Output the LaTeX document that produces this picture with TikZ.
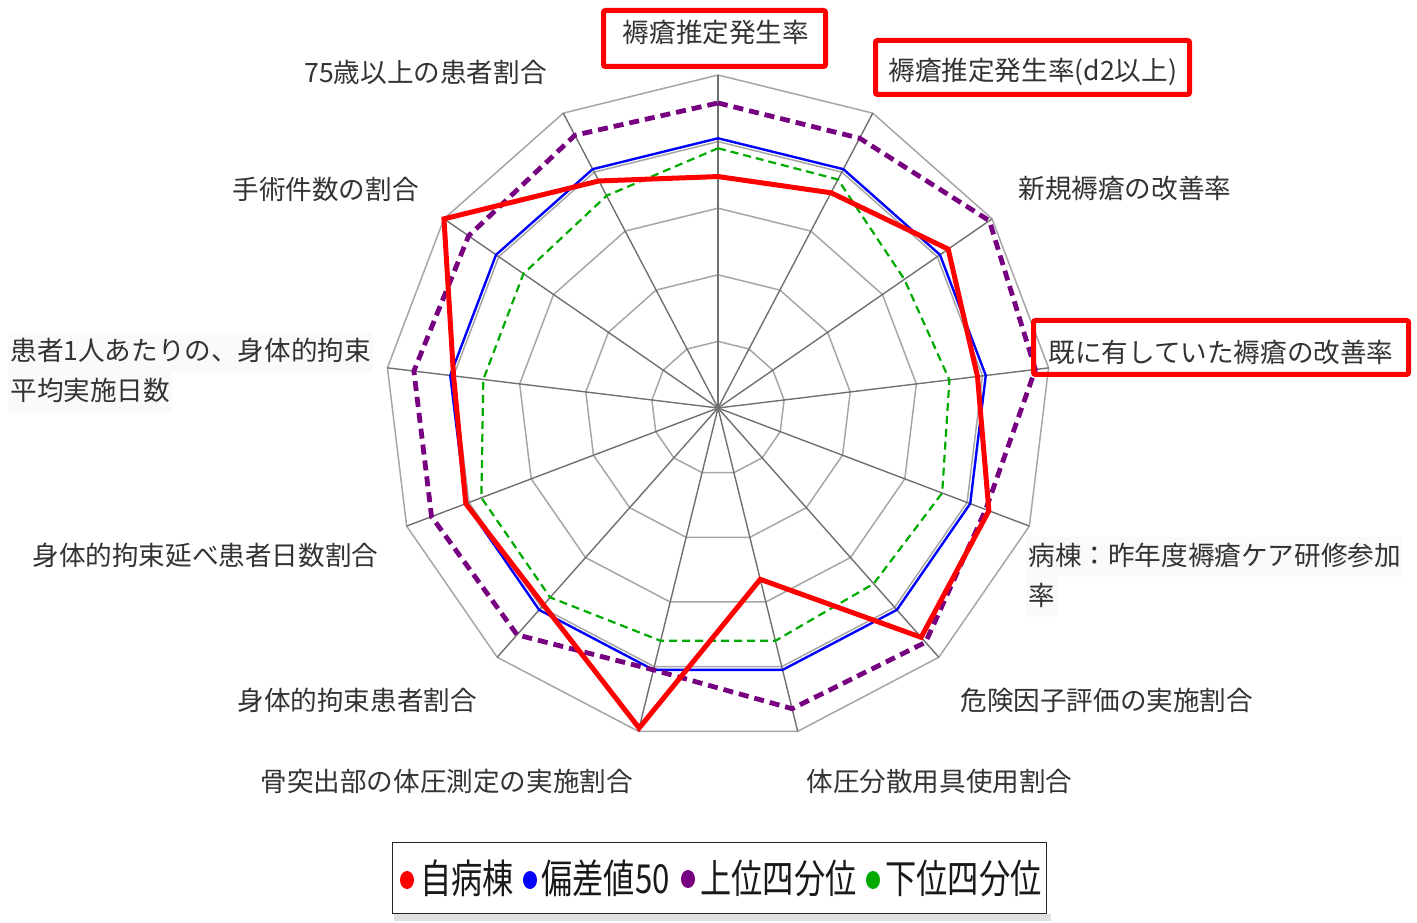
\documentclass[tikz,border=0pt]{standalone}
\usepackage{fontspec}
\usepackage{graphicx}
\usetikzlibrary{positioning,shapes.geometric}
\newfontfamily\jp{Noto Sans CJK JP}
\definecolor{own}  {RGB}{255,  0,  0}
\definecolor{dev}  {RGB}{  0,  0,255}
\definecolor{upq}  {RGB}{118,  0,128}
\definecolor{lowq} {RGB}{  0,170,  0}
\definecolor{ring} {RGB}{166,166,166}
\definecolor{spoke}{RGB}{112,112,112}

\begin{document}
\begin{tikzpicture}[x=0.5pt,y=0.5pt,
    gridring/.style={draw=ring,line width=0.75pt},
    gridspoke/.style={draw=spoke,line width=0.7pt},
    ownline/.style={draw=own,line width=2.5pt,line join=miter},
    devline/.style={draw=dev,line width=1.2pt},
    upqline/.style={draw=upq,line width=2.4pt,dash pattern=on 5pt off 3pt},
    lowqline/.style={draw=lowq,line width=1.1pt,dash pattern=on 4pt off 2.5pt},
    lbl/.style={font=\jp\fontsize{13.3}{16}\selectfont,text=black!80,inner sep=0pt,anchor=west},
    shaded/.style={fill=black!2,inner xsep=1pt,inner ysep=3.5pt,text height=10.5pt,text depth=2.5pt},
    hlbox/.style={draw=own,line width=2.5pt,rounded corners=1pt,inner sep=0pt},
    legtxt/.style={font=\jp\fontsize{20}{24}\selectfont,text=black!90,inner sep=0pt,anchor=west},
    dot/.style={shape=ellipse,minimum width=7pt,minimum height=9pt,inner sep=0pt}]

    \useasboundingbox (0,0) rectangle (1417,922);

    \begin{scope}[shift={(718,514)}]
    \coordinate (c) at (0,0);

    \foreach \r in {66.6,133.2,199.8,266.4,333}
        \draw[gridring] (90:\r) \foreach \k in {1,...,12}{ -- ({90-\k*360/13}:\r)} -- cycle;
    \foreach \k in {0,...,12}
        \draw[gridspoke] (c) -- ({90-\k*360/13}:333);

    \foreach \v [count=\k from 0] in {0.81,0.81,0.81,0.81,0.81,0.81,0.81,0.81,0.81,0.81,0.81,0.81,0.81}
        \coordinate (dev\k) at ({90-\k*360/13}:{\v*333});
    \foreach \v [count=\k from 0] in {0.78,0.775,0.68,0.70,0.72,0.705,0.72,0.72,0.76,0.76,0.71,0.71,0.72}
        \coordinate (lowq\k) at ({90-\k*360/13}:{\v*333});
    \foreach \v [count=\k from 0] in {0.916,0.915,0.99,0.96,0.86,0.94,0.93,0.81,0.91,0.92,0.92,0.91,0.925}
        \coordinate (upq\k) at ({90-\k*360/13}:{\v*333});
    \foreach \v [count=\k from 0] in {0.695,0.73,0.84,0.785,0.87,0.92,0.53,0.99,0.79,0.81,0.80,1.0,0.77}
        \coordinate (own\k) at ({90-\k*360/13}:{\v*333});

    \draw[devline] (dev0) \foreach \k in {1,...,12}{ -- (dev\k)} -- cycle;
    \draw[lowqline] (lowq0) \foreach \k in {1,...,12}{ -- (lowq\k)} -- cycle;
    \draw[upqline] (upq0) \foreach \k in {1,...,12}{ -- (upq\k)} -- cycle;
    \draw[ownline] (own0) \foreach \k in {1,...,12}{ -- (own\k)} -- cycle;
    \end{scope}

    \node[hlbox,minimum width=111pt,minimum height=28pt] (box0) at (714.5,883.5) {};
    \node[hlbox,minimum width=157pt,minimum height=27pt] (box1) at (1032.5,854.5) {};
    \node[hlbox,minimum width=187.5pt,minimum height=27pt] (box3) at (1221,574.5) {};

    \node[lbl,anchor=center] (ax0) at (716,890) {褥瘡推定発生率};
    \node[lbl] (ax1) at (888,850) {褥瘡推定発生率(d2以上)};
    \node[lbl] (ax2) at (1018,734) {新規褥瘡の改善率};
    \node[lbl] (ax3) at (1048,570) {既に有していた褥瘡の改善率};
    \node[lbl,shaded] (ax4) at (1026,365) {病棟：昨年度褥瘡ケア研修参加};
    \node[lbl,shaded] (ax4b) at (1026,325) {率};
    \node[lbl] (ax5) at (960,222) {危険因子評価の実施割合};
    \node[lbl] (ax6) at (806,141) {体圧分散用具使用割合};
    \node[lbl] (ax7) at (260,141) {骨突出部の体圧測定の実施割合};
    \node[lbl] (ax8) at (237,222) {身体的拘束患者割合};
    \node[lbl] (ax9) at (32,367) {身体的拘束延べ患者日数割合};
    \node[lbl,shaded] (ax10) at (8,569) {患者1人あたりの、身体的拘束};
    \node[lbl,shaded] (ax10b) at (8,529) {平均実施日数};
    \node[lbl] (ax11) at (232,733) {手術件数の割合};
    \node[lbl] (ax12) at (304,850) {75歳以上の患者割合};

    \fill[black!12] (394,1) rectangle (1051,8);
    \node[draw=black!85,line width=0.8pt,fill=white,minimum width=327pt,minimum height=35.5pt,inner sep=0pt] (leg) at (719.5,44) {};

    \node[dot,fill=own] (d1) at (407,42) {};
    \node[legtxt] (t1) at (420,44) {\scalebox{0.78}[1]{自病棟}};
    \node[dot,fill=dev] (d2) at (530,42) {};
    \node[legtxt] (t2) at (541,44) {\scalebox{0.78}[1]{偏差値50}};
    \node[dot,fill=upq] (d3) at (688,43) {};
    \node[legtxt] (t3) at (700,44) {\scalebox{0.78}[1]{上位四分位}};
    \node[dot,fill=lowq] (d4) at (873,42) {};
    \node[legtxt] (t4) at (885,44) {\scalebox{0.78}[1]{下位四分位}};

\end{tikzpicture}
\end{document}
